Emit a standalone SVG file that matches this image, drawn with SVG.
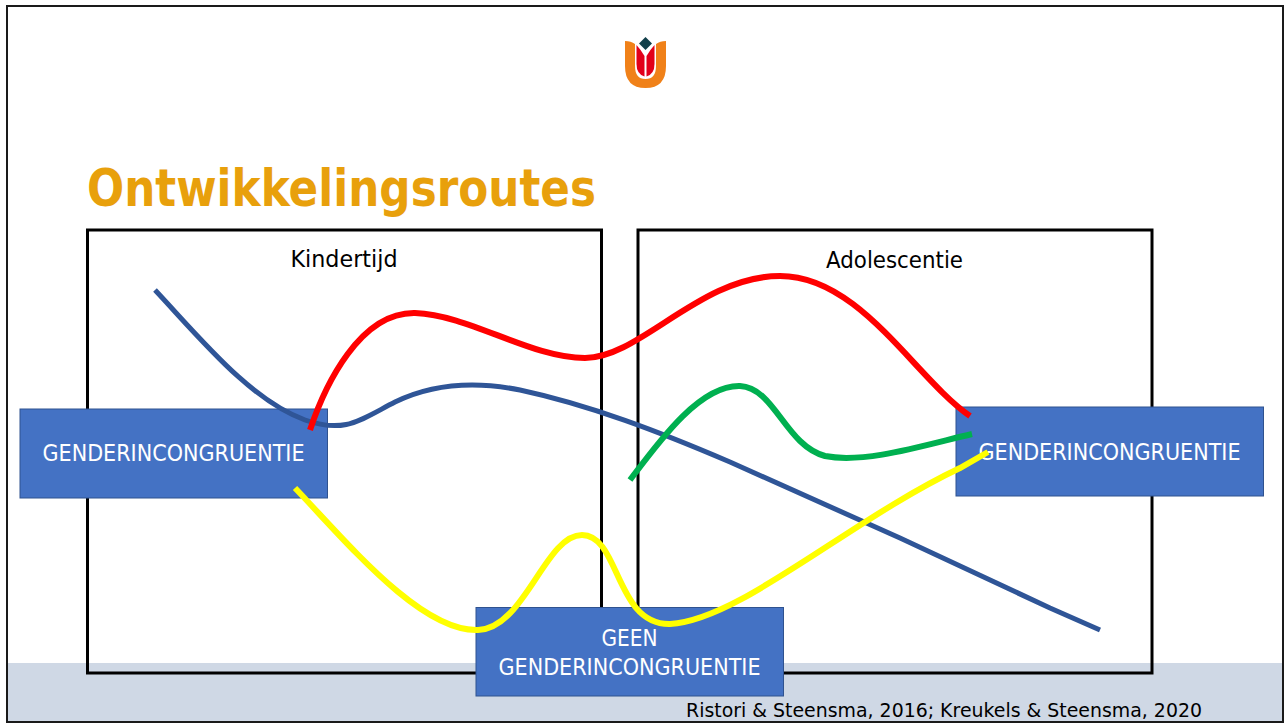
<svg xmlns="http://www.w3.org/2000/svg" width="1284" height="723" viewBox="0 0 1284 723">
<style>
.t{font-family:"DejaVu Sans",sans-serif}
.frame{fill:none;stroke:#000;stroke-width:3}
.box{fill:#4472c4;stroke:#2f528f;stroke-width:1}
.w{fill:#fff;font-size:23px;text-anchor:middle}
.k{fill:#000;font-size:23px;text-anchor:middle}
.c{fill:none;stroke-width:6}
</style>
<rect x="0" y="0" width="1284" height="723" fill="#fff"/>
<rect x="7" y="663" width="1276" height="59" fill="#cfd8e5"/>
<rect x="7" y="6" width="1276" height="716" fill="none" stroke="#1a1a1a" stroke-width="2"/>
<g id="logo">
<path d="M625 41 Q631 41 635 44 V66 Q635 79 645.500 79 Q656 79 656 66 V44 Q660 41 666 41 V66 Q666 88 645.500 88 Q625 88 625 66 Z" fill="#f08119"/>
<path d="M636.500 45 Q641 50 644.500 56 V76.500 Q636.500 74 636.500 64 Z" fill="#e2001a"/>
<path d="M654.500 45 Q650 50 646.500 56 V76.500 Q654.500 74 654.500 64 Z" fill="#e2001a"/>
<path d="M645.500 37 L652 43.500 L645.500 50 L639 43.500 Z" fill="#123f4a"/>
</g>
<text id="title" class="t" x="87" y="206" font-size="52" font-weight="700" fill="#e8a00c" textLength="509" lengthAdjust="spacingAndGlyphs">Ontwikkelingsroutes</text>
<g id="kindertijd">
<rect class="frame" x="87.500" y="230" width="514" height="443"/>
<text class="t k" x="344" y="267" textLength="107" lengthAdjust="spacingAndGlyphs">Kindertijd</text>
</g>
<g id="adolescentie">
<rect class="frame" x="638" y="230" width="514" height="443"/>
<text class="t k" x="894.500" y="268" textLength="137" lengthAdjust="spacingAndGlyphs">Adolescentie</text>
</g>
<g id="node-left">
<rect class="box" x="20" y="409" width="307.500" height="89"/>
<text class="t w" x="173.500" y="461" textLength="262" lengthAdjust="spacingAndGlyphs">GENDERINCONGRUENTIE</text>
</g>
<g id="node-right">
<rect class="box" x="956" y="407" width="307.500" height="89"/>
<text class="t w" x="1109.500" y="460" textLength="262" lengthAdjust="spacingAndGlyphs">GENDERINCONGRUENTIE</text>
</g>
<g id="node-bottom">
<rect class="box" x="476" y="607.500" width="307.500" height="88.500"/>
<text class="t w" x="629.500" y="646" textLength="56" lengthAdjust="spacingAndGlyphs">GEEN</text>
<text class="t w" x="629.500" y="675" textLength="262" lengthAdjust="spacingAndGlyphs">GENDERINCONGRUENTIE</text>
</g>
<g id="connectors">
<path class="c" stroke="#2f5597" stroke-width="5" style="stroke-width:5" d="M155 290 C200 338 250 400 305 420 C345 434 360 420 395 402 C430 385 470 380 520 390 C590 405 660 432 730 462 L900 538 L1050 608 L1100 630"/>
<path class="c" stroke="#ff0000" d="M310 430 C325 385 360 312 415 313 C470 315 530 358 585 358 C640 358 700 276 780 276 C860 276 915 378 970 416"/>
<path class="c" stroke="#00b050" d="M630 480 C660 440 700 385 740 386 C775 388 785 445 825 456 C865 464 925 445 972 434"/>
<path class="c" stroke="#ffff00" d="M295 488 C345 540 420 632 478 630 C525 628 545 535 582 535 C620 535 615 625 670 624 C740 620 850 520 960 468 L988 452"/>
</g>
<text id="source" class="t" x="686" y="717" font-size="20" fill="#000" textLength="516" lengthAdjust="spacingAndGlyphs">Ristori &amp; Steensma, 2016; Kreukels &amp; Steensma, 2020</text>
</svg>
